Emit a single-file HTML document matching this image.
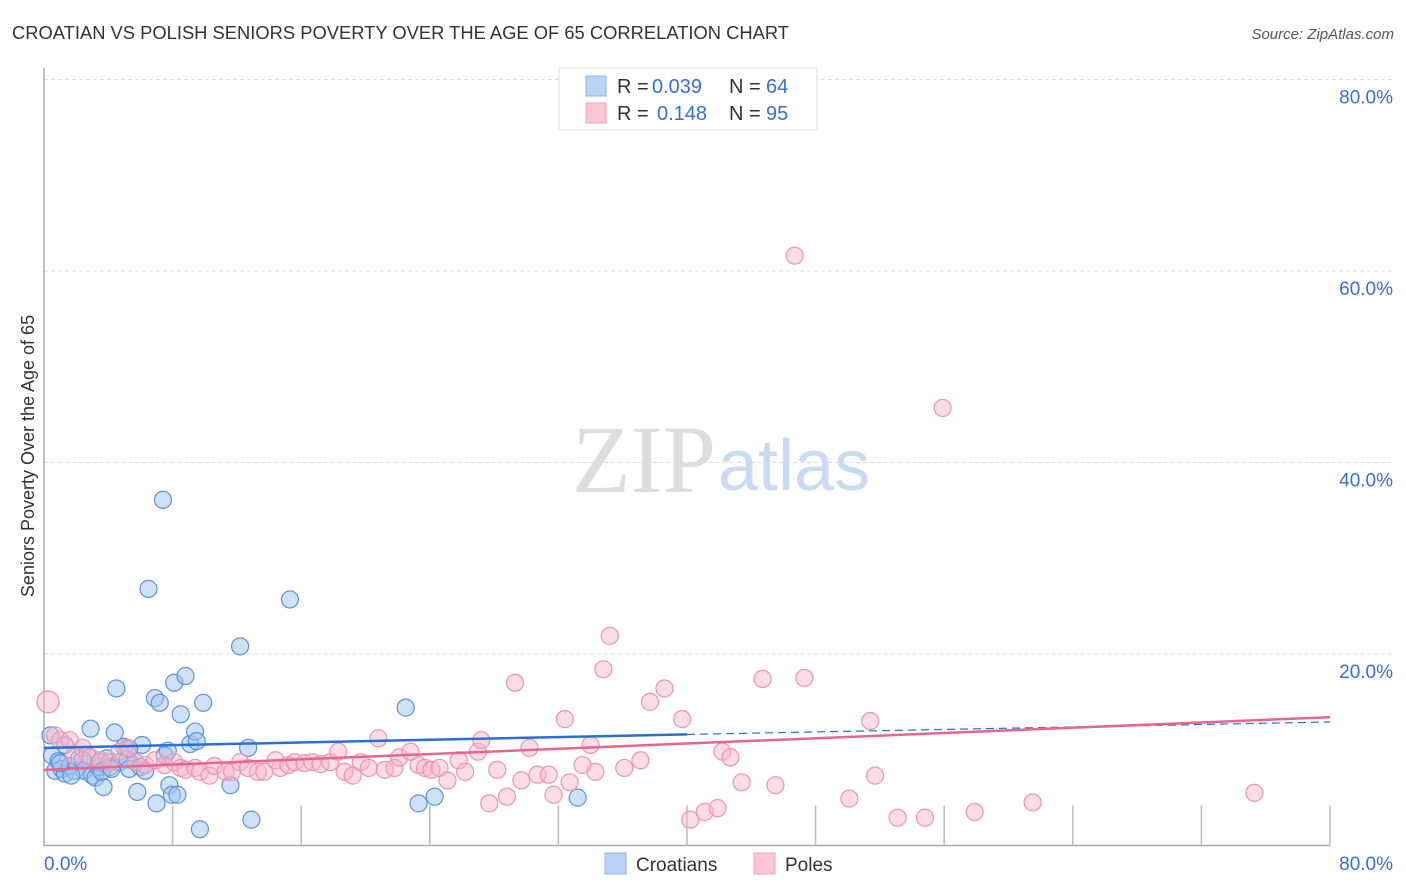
<!DOCTYPE html>
<html><head><meta charset="utf-8"><style>
body{margin:0;background:#fff;font-family:"Liberation Sans",sans-serif}
#wrap{position:relative;width:1406px;height:892px;overflow:hidden}
</style></head><body>
<div id="wrap">
<svg id="svg" width="1406" height="892" xmlns="http://www.w3.org/2000/svg">
<text x="12" y="39" font-size="18" fill="#333" textLength="777" lengthAdjust="spacingAndGlyphs">CROATIAN VS POLISH SENIORS POVERTY OVER THE AGE OF 65 CORRELATION CHART</text>
<text x="1394" y="39" font-size="15" fill="#555" font-style="italic" text-anchor="end">Source: ZipAtlas.com</text>
<text x="34" y="456" font-size="18" fill="#333" text-anchor="middle" transform="rotate(-90 34 456)">Seniors Poverty Over the Age of 65</text>
<text x="716" y="492" font-size="96" fill="#ddd" font-family="Liberation Serif" text-anchor="end">ZIP</text>
<text x="718" y="490" font-size="72" fill="#c9dbf3">atlas</text>
<g id="grid"></g><g id="marks"></g>
<g>
<rect x="559" y="68" width="258" height="62" fill="#fff" stroke="#ddd"/>
<rect x="586" y="76" width="20" height="20" fill="#b8d3f5" stroke="#8ab3ea"/>
<rect x="586" y="103" width="20" height="20" fill="#fbc7d6" stroke="#f2a0b8"/>
<text x="617" y="93" font-size="20" fill="#333">R =</text>
<text x="652" y="93" font-size="20" fill="#3a6fd0">0.039</text>
<text x="729" y="93" font-size="20" fill="#333">N =</text>
<text x="766" y="93" font-size="20" fill="#3a6fd0">64</text>
<text x="617" y="120" font-size="20" fill="#333">R =</text>
<text x="657" y="120" font-size="20" fill="#3a6fd0">0.148</text>
<text x="729" y="120" font-size="20" fill="#333">N =</text>
<text x="766" y="120" font-size="20" fill="#3a6fd0">95</text>
</g>
<g>
<rect x="605" y="853" width="21" height="21" fill="#b8d3f5" stroke="#8ab3ea"/>
<text x="636" y="871" font-size="19" fill="#333">Croatians</text>
<rect x="754" y="853" width="21" height="21" fill="#fbc7d6" stroke="#f2a0b8"/>
<text x="785" y="871" font-size="19" fill="#333">Poles</text>
</g>
</svg></div>
<script>
const yTicks=[20,40,60,80];
const yTickLabels=["20.0%","40.0%","60.0%","80.0%"];
const xTickLabels=["0.0%","80.0%"];
const croatX=[0.4,0.5,0.7,0.9,1.1,1.3,1.6,1.9,2.2,2.5,2.7,2.9,3.0,3.2,3.4,3.5,3.7,3.9,4.1,4.4,4.5,4.7,5.0,5.2,5.3,5.7,5.8,6.0,6.1,6.3,6.5,6.9,7.0,7.2,7.4,7.5,7.8,7.96,8.1,8.3,8.5,8.8,9.1,9.4,9.5,9.7,9.9,11.6,12.2,12.7,12.9,15.3,22.5,23.3,24.3,33.2,1.0,1.7,2.4,3.6,4.2,5.3,7.7,1.3];
const croatY=[11.5,9.4,7.8,8.8,8.0,7.5,8.3,7.8,9.1,7.8,9.4,12.2,7.3,7.1,8.2,8.7,6.1,9.1,8.2,11.8,16.4,8.7,10.3,9.0,8.0,8.7,5.6,8.2,10.5,7.8,26.8,15.4,4.4,14.9,36.1,9.4,6.3,5.3,17.0,5.3,13.7,17.7,10.6,11.9,10.9,1.7,14.9,6.3,20.8,10.2,2.7,25.7,14.4,4.4,5.1,5.0,8.6,7.3,8.9,7.7,8.0,10.1,9.9,10.5];
const polesX=[0.25,0.68,1.0,1.6,1.9,2.4,2.9,3.5,4.1,4.7,
5.2,5.7,6.3,6.9,7.5,8.1,8.5,8.8,9.4,9.7,
10.3,10.6,11.3,11.7,12.2,12.7,13.3,13.7,14.4,14.7,
15.2,15.6,16.2,16.7,17.2,17.8,18.3,18.7,19.2,19.7,
20.2,20.8,21.2,21.8,22.1,22.8,23.3,23.7,24.1,24.6,
25.1,25.8,26.2,27.0,27.2,27.7,28.2,28.8,29.3,29.7,
30.2,30.7,31.4,31.7,32.4,32.7,33.5,34.0,34.3,34.8,
35.2,36.1,37.1,37.7,38.6,39.7,40.2,41.1,41.9,42.2,
42.7,43.4,44.7,45.5,46.7,47.3,50.1,51.4,51.7,53.1,
54.8,55.9,57.9,61.5,75.3];
const polesY=[15.0,11.5,11.0,11.0,9.4,10.2,9.2,8.9,8.7,9.8,
10.2,8.7,8.4,8.9,8.4,8.7,8.1,7.9,8.1,7.7,
7.3,8.3,7.7,7.7,8.7,8.1,7.7,7.7,8.9,8.1,
8.4,8.7,8.6,8.7,8.5,8.7,9.8,7.7,7.3,8.7,
8.1,11.2,7.9,8.1,9.2,9.8,8.4,8.1,7.9,8.1,
6.8,8.9,7.7,9.8,11.0,4.4,7.9,5.1,17.0,6.8,
10.2,7.4,7.4,5.3,13.2,6.6,8.4,10.5,7.7,18.4,
21.9,8.1,8.9,15.0,16.4,13.2,2.7,3.5,3.9,9.8,
9.2,6.6,17.4,6.3,61.6,17.5,4.9,13.0,7.3,2.9,
2.9,45.7,3.5,4.5,5.5];
const blueTrend=[[0,10.2],[40,11.6],[80,12.9]];
const pinkTrend=[[0,7.9],[80,13.4]];
const X0=44,X1=1330,Y0=845.5,Y80=79.5;
const sx=v=>X0+(X1-X0)*v/80, sy=v=>Y0-(Y0-Y80)*v/80;
const NS="http://www.w3.org/2000/svg";
function mk(tag,attrs,parent){const e=document.createElementNS(NS,tag);for(const k in attrs)e.setAttribute(k,attrs[k]);parent.appendChild(e);return e;}
const grid=document.getElementById('grid'),marks=document.getElementById('marks');
yTicks.forEach((t,i)=>{
 const l=mk('line',{x1:X0,x2:1394,y1:sy(t),y2:sy(t),stroke:'#ddd','stroke-dasharray':'4,3'},grid);
 
 
 const tx=mk('text',{x:1393,y:sy(t)+24,'font-size':19,fill:'#3a6fd0','text-anchor':'end'},grid);
 tx.textContent=yTickLabels[i];
 
 
});
const ax=mk('path',{d:`M${X0} 68V${Y0}H${X1}`,stroke:'#aaa',fill:'none','stroke-width':1.5},grid);


for(let i=1;i<=10;i++){const t=mk('line',{x1:sx(i*8),x2:sx(i*8),y1:Y0-40,y2:Y0,stroke:'#bbb','stroke-width':1.5},grid);
 
 }
[[0,'start',X0],[1,'end',1393]].forEach(([i,a,x])=>{const t=mk('text',{x:x,y:870,'font-size':19,fill:'#3a6fd0','text-anchor':a},grid);t.textContent=xTickLabels[i];
 
 });
croatX.forEach((v,i)=>{const c=mk('circle',{cx:sx(v),cy:sy(croatY[i]),r:8.5,fill:'rgba(160,196,240,0.5)',stroke:'#5b92dc','stroke-width':1.2},marks);
 
 });
polesX.forEach((v,i)=>{const c=mk('circle',{cx:sx(v),cy:sy(polesY[i]),r:v<0.5?11:8.5,fill:'rgba(248,180,200,0.45)',stroke:'#ee93b0','stroke-width':1.2},marks);
 
 });
let b=mk('line',{x1:sx(blueTrend[0][0]),y1:sy(blueTrend[0][1]),x2:sx(blueTrend[1][0]),y2:sy(blueTrend[1][1]),stroke:'#2a6fd6','stroke-width':2.5},marks);


b=mk('line',{x1:sx(blueTrend[1][0]),y1:sy(blueTrend[1][1]),x2:sx(blueTrend[2][0]),y2:sy(blueTrend[2][1]),stroke:'#2a6fd6','stroke-width':1.2,'stroke-dasharray':'8,5'},marks);


const p=mk('line',{x1:sx(pinkTrend[0][0]),y1:sy(pinkTrend[0][1]),x2:sx(pinkTrend[1][0]),y2:sy(pinkTrend[1][1]),stroke:'#e8658f','stroke-width':2.5},marks);


</script>
</body></html>
